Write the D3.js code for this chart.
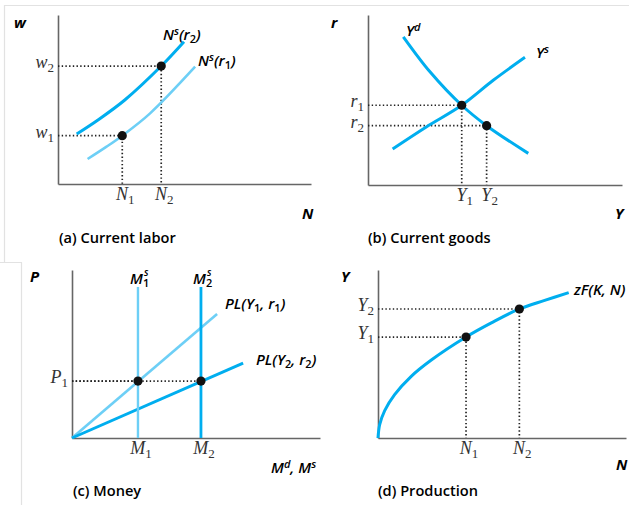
<!DOCTYPE html>
<html>
<head>
<meta charset="utf-8">
<script src="https://d3js.org/d3.v7.min.js"></script>
<style>
  body { margin: 0; background: #fff; }
  svg { display: block; }
  .axlab { font-family: "Open Sans", sans-serif; font-weight: 700; font-style: italic; font-size: 15px; }
  .cap { font-family: "Open Sans", sans-serif; font-weight: 600; font-size: 14.6px; }
  .tick { font-family: "Liberation Serif", serif; font-style: italic; font-size: 18px; fill: #333; }
  .curve { font-family: "Open Sans", sans-serif; font-weight: 600; font-style: italic; font-size: 15px; }
</style>
</head>
<body>
<svg id="chart" width="629" height="505"></svg>
<script>
var svgWidth = 629;
var svgHeight = 505;

var darkBlue = "#00aeef";
var lightBlue = "#6dcff6";

// (a) labor supply curves, units 0-100 on both axes
var nsR2 = [[7.4, 29.6], [15.8, 37.9], [26.4, 49.7], [40.8, 69.8], [49.8, 84.2]];
var nsR1 = [[11.7, 14.8], [19.2, 22.1], [25.4, 28.6], [36.4, 41.8], [54.2, 69.4]];
var laborPoints = [[25.4, 28.6], [40.8, 69.8]];
var laborXTicks = [["N", "1", 25.4], ["N", "2", 40.8]];
var laborYTicks = [["w", "1", 28.6], ["w", "2", 69.8]];

// (b) goods market
var yDemand = [[13.9, 87.2], [24.4, 66.6], [36.9, 46.9], [46.7, 34.9], [63.1, 18.6]];
var ySupply = [[9.7, 21.2], [23.1, 34.3], [36.9, 46.9], [49.3, 61.6], [61.8, 75.1]];
var goodsPoints = [[36.9, 46.9], [46.7, 34.9]];
var goodsXTicks = [["Y", "1", 36.9], ["Y", "2", 46.7]];
var goodsYTicks = [["r", "1", 46.9], ["r", "2", 34.9]];

// (c) money market
var plY1r1 = [[0, 0], [58.5, 73.8]];
var plY2r2 = [[0, 0], [69, 44.6]];
var ms1 = [[26.6, 0], [26.6, 89.9]];
var ms2 = [[52, 0], [52, 89.9]];
var moneyPoints = [[26.6, 33.9], [52, 33.9]];
var moneyXTicks = [["M", "1", 26.6], ["M", "2", 52]];
var moneyYTicks = [["P", "1", 33.9]];

// (d) production function
var prodFn = [[0, 0], [0.67, 7.9], [2.7, 16.3], [6.7, 25.8], [13.4, 36.7], [21.5, 46.4],
  [35.5, 60.1], [45.7, 68.5], [57.0, 76.8], [67.2, 81.9], [76.9, 86.5]];
var prodPoints = [[35.5, 60.1], [57.0, 76.8]];
var prodXTicks = [["N", "1", 35.5], ["N", "2", 57.0]];
var prodYTicks = [["Y", "1", 60.1], ["Y", "2", 76.8]];

var svg = d3.select("#chart");

// faint scan border
svg.append("path")
  .attr("d", "M4.5,262V5.5H629M0,262.5H21.5V505")
  .attr("fill", "none")
  .attr("stroke", "#e2e2e2")
  .attr("stroke-width", 1.2);

function panel(xr, yr) {
  var x = d3.scaleLinear().domain([0, 100]).range(xr);
  var y = d3.scaleLinear().domain([0, 100]).range(yr);
  var g = svg.append("g");

  g.append("g")
    .attr("transform", "translate(0," + yr[0] + ")")
    .call(d3.axisBottom(x).tickValues([]).tickSizeOuter(0))
    .call(a => a.select(".domain").attr("stroke", "#666").attr("stroke-width", 1.6));
  g.append("g")
    .attr("transform", "translate(" + xr[0] + ",0)")
    .call(d3.axisLeft(y).tickValues([]).tickSizeOuter(0))
    .call(a => a.select(".domain").attr("stroke", "#666").attr("stroke-width", 1.6));

  return {g: g, x: x, y: y};
}

function curve(p, data, color, w) {
  var line = d3.line()
    .x(d => p.x(d[0]))
    .y(d => p.y(d[1]))
    .curve(d3.curveCatmullRom);
  p.g.append("path")
    .datum(data)
    .attr("fill", "none")
    .attr("stroke", color)
    .attr("stroke-width", w)
    .attr("d", line);
}

function guides(p, pts) {
  pts.forEach(function(d) {
    p.g.append("path")
      .attr("d", "M" + p.x(0) + "," + p.y(d[1]) + "H" + p.x(d[0]) + "V" + p.y(0))
      .attr("fill", "none")
      .attr("stroke", "#222")
      .attr("stroke-width", 1.7)
      .attr("stroke-dasharray", "1.4,2.3");
  });
}

function dots(p, pts) {
  p.g.selectAll("circle.pt")
    .data(pts)
    .join("circle")
      .attr("class", "pt")
      .attr("cx", d => p.x(d[0]))
      .attr("cy", d => p.y(d[1]))
      .attr("r", 4.6)
      .attr("fill", "#111");
}

function tickText(sel, t) {
  sel.append("tspan").text(t[0]);
  sel.append("tspan")
    .attr("font-style", "normal")
    .attr("font-size", "13px")
    .attr("dy", 4)
    .text(t[1]);
}

function ticks(p, xt, yt) {
  xt.forEach(function(t) {
    var s = p.g.append("text")
      .attr("class", "tick")
      .attr("x", p.x(t[2]) + 3)
      .attr("y", p.y(0) + 16)
      .attr("text-anchor", "middle");
    tickText(s, t);
  });
  yt.forEach(function(t) {
    var s = p.g.append("text")
      .attr("class", "tick")
      .attr("x", p.x(0) - 4)
      .attr("y", p.y(t[2]) + 2)
      .attr("text-anchor", "end");
    tickText(s, t);
  });
}

function label(cls, x, y, parts) {
  var t = svg.append("text").attr("class", cls).attr("x", x).attr("y", y);
  parts.forEach(function(p) {
    var s = t.append("tspan").text(p[0]);
    if (p[1] == "sup") s.attr("font-size", "11px").attr("font-style", "italic").attr("dy", -5);
    if (p[1] == "sub") s.attr("font-size", "11px").attr("font-style", "normal").attr("dy", 3);
    if (p[1] == "base") s.attr("dy", p[2]);
  });
  return t;
}

// (a)
var pa = panel([58, 311], [184, 15]);
guides(pa, laborPoints);
curve(pa, nsR1, lightBlue, 2.6);
curve(pa, nsR2, darkBlue, 3);
dots(pa, laborPoints);
ticks(pa, laborXTicks, laborYTicks);
label("axlab", 14, 28, [["w"]]);
label("axlab", 302, 219, [["N"]]);
label("cap", 59, 243, [["(a) Current labor"]]);
label("curve", 163, 40, [["N"], ["s", "sup"], ["(r", "base", 5], ["2", "sub"], [")", "base", -3]]);
label("curve", 198, 66, [["N"], ["s", "sup"], ["(r", "base", 5], ["1", "sub"], [")", "base", -3]]);

// (b)
var pb = panel([368, 622], [185, 15]);
guides(pb, goodsPoints);
curve(pb, yDemand, darkBlue, 3);
curve(pb, ySupply, darkBlue, 3);
dots(pb, goodsPoints);
ticks(pb, goodsXTicks, goodsYTicks);
label("axlab", 331, 28, [["r"]]);
label("axlab", 615, 219, [["Y"]]);
label("cap", 368, 243, [["(b) Current goods"]]);
label("curve", 406, 36, [["Y"], ["d", "sup"]]);
label("curve", 536, 58, [["Y"], ["s", "sup"]]);

// (c)
var pc = panel([72, 320], [438, 270]);
guides(pc, moneyPoints);
curve(pc, plY1r1, lightBlue, 2.6);
curve(pc, plY2r2, darkBlue, 3);
curve(pc, ms1, lightBlue, 2.4);
curve(pc, ms2, darkBlue, 2.8);
dots(pc, moneyPoints);
ticks(pc, moneyXTicks, moneyYTicks);
label("axlab", 30, 282, [["P"]]);
label("curve", 271, 473, [["M"], ["d", "sup"], [", M", "base", 5], ["s", "sup"]]);
label("cap", 73, 496, [["(c) Money"]]);
label("curve", 130, 284, [["M"], ["1", "sub"]])
  .append("tspan").attr("x", 144).attr("dy", -11).attr("font-size", "10px").text("s");
label("curve", 193, 284, [["M"], ["2", "sub"]])
  .append("tspan").attr("x", 207).attr("dy", -11).attr("font-size", "10px").text("s");
label("curve", 225, 309, [["PL(Y"], ["1", "sub"], [", r", "base", -3], ["1", "sub"], [")", "base", -3]]);
label("curve", 256, 365, [["PL(Y"], ["2", "sub"], [", r", "base", -3], ["2", "sub"], [")", "base", -3]]);

// (d)
var pd = panel([378, 626], [438, 270]);
guides(pd, prodPoints);
curve(pd, prodFn, darkBlue, 3);
dots(pd, prodPoints);
ticks(pd, prodXTicks, prodYTicks);
label("axlab", 341, 282, [["Y"]]);
label("axlab", 616, 470, [["N"]]);
label("cap", 378, 496, [["(d) Production"]]);
label("curve", 574, 295, [["zF(K, N)"]]);
</script>
</body>
</html>
